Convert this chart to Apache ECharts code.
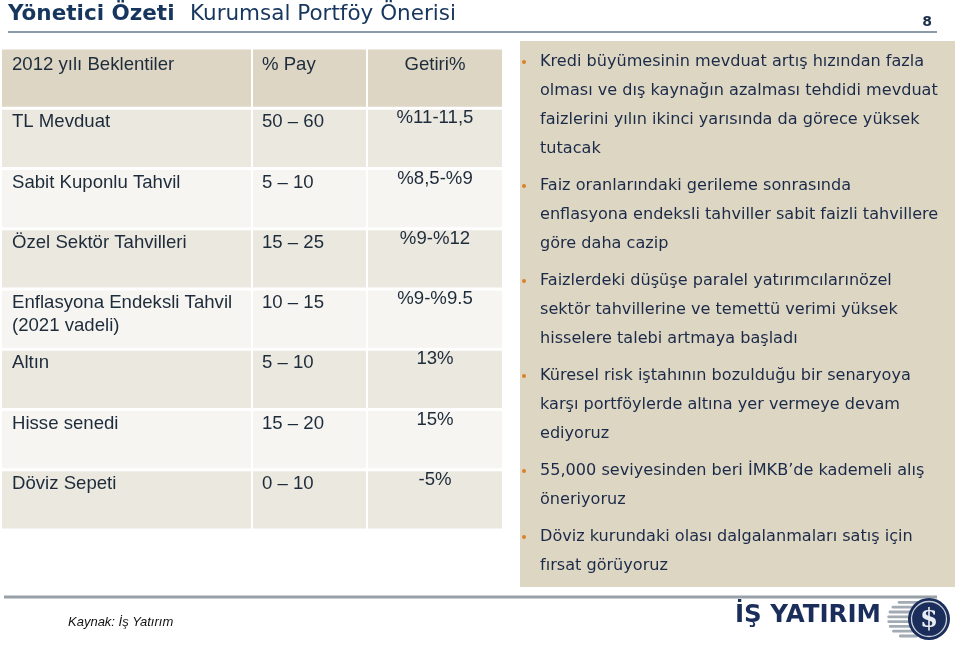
<!DOCTYPE html>
<html><head><meta charset="utf-8">
<script src="https://cdn.jsdelivr.net/npm/echarts@6/dist/echarts.min.js"></script>
<style>html,body{margin:0;padding:0;background:#fff}#c{width:959px;height:645px}</style>
</head><body><div id="c"></div>
<script>
// ---- data ----
var headers = ['2012 yılı Beklentiler', '% Pay', 'Getiri%'];
var categories = ['TL Mevduat', 'Sabit Kuponlu Tahvil', 'Özel Sektör Tahvilleri', 'Enflasyona Endeksli Tahvil\n(2021 vadeli)', 'Altın', 'Hisse senedi', 'Döviz Sepeti'];
var payRanges = ['50 – 60', '5 – 10', '15 – 25', '10 – 15', '5 – 10', '15 – 20', '0 – 10'];
var returns = ['%11-11,5', '%8,5-%9', '%9-%12', '%9-%9.5', '13%', '15%', '-5%'];
var bullets = [
  ['Kredi büyümesinin mevduat artış hızından fazla', 'olması ve dış kaynağın azalması tehdidi mevduat', 'faizlerini yılın ikinci yarısında da görece yüksek', 'tutacak'],
  ['Faiz oranlarındaki gerileme sonrasında', 'enflasyona endeksli tahviller sabit faizli tahvillere', 'göre daha cazip'],
  ['Faizlerdeki düşüşe paralel yatırımcılarınözel', 'sektör tahvillerine ve temettü verimi yüksek', 'hisselere talebi artmaya başladı'],
  ['Küresel risk iştahının bozulduğu bir senaryoya', 'karşı portföylerde altına yer vermeye devam', 'ediyoruz'],
  ['55,000 seviyesinden beri İMKB’de kademeli alış', 'öneriyoruz'],
  ['Döviz kurundaki olası dalgalanmaları satış için', 'fırsat görüyoruz']
];
var titleBold = 'Yönetici Özeti';
var titleRest = 'Kurumsal Portföy Önerisi';
var pageNo = '8';
var sourceText = 'Kaynak: İş Yatırım';
var logoText = 'İŞ YATIRIM';

// ---- layout ----
var colEdges = [[0, 249], [251, 364], [366, 500]];
var rowKeys = ['h'].concat(categories);
var TXT = '#1d2b3a';

var chart = echarts.init(document.getElementById('c'));

function renderRow(params, api) {
  var i = api.value(1);
  var c = api.coord([0, i]);
  var band = api.size([0, 1])[1];
  var top = c[1] - band / 2;
  var x0 = c[0];
  var isHeader = i === 0;
  var fill = isHeader ? '#ddd6c5' : (i % 2 === 1 ? '#ebe8e0' : '#f6f5f1');
  var children = [];
  colEdges.forEach(function (e) {
    children.push({type: 'rect', shape: {x: x0 + e[0], y: top + 1.5, width: e[1] - e[0], height: band - 3}, style: {fill: fill}});
  });
  var font = '18.6px "Liberation Sans", Arial, sans-serif';
  var ty = top + (isHeader ? 17 : 14);
  var t1 = isHeader ? headers[0] : categories[i - 1];
  var t2 = isHeader ? headers[1] : payRanges[i - 1];
  var t3 = isHeader ? headers[2] : returns[i - 1];
  t1.split('\n').forEach(function (ln, k) {
    children.push({type: 'text', style: {text: ln, x: x0 + 10, y: ty + k * 23, font: font, fill: TXT, textAlign: 'left', textVerticalAlign: 'middle'}});
  });
  children.push({type: 'text', style: {text: t2, x: x0 + colEdges[1][0] + 9, y: ty, font: font, fill: TXT, textAlign: 'left', textVerticalAlign: 'middle'}});
  children.push({type: 'text', style: {text: t3, x: x0 + (colEdges[2][0] + colEdges[2][1]) / 2, y: isHeader ? ty : ty - 4, font: font, fill: TXT, textAlign: 'center', textVerticalAlign: 'middle'}});
  return {type: 'group', children: children};
}

// right panel graphics
var graphics = [];
graphics.push({type: 'rect', shape: {x: 520, y: 41, width: 435, height: 546}, style: {fill: '#ddd6c3'}, z: 0});
var y = 62;
bullets.forEach(function (lines) {
  graphics.push({type: 'circle', shape: {cx: 524, cy: y, r: 2}, style: {fill: '#d9822b'}, z: 2});
  lines.forEach(function (ln, k) {
    graphics.push({type: 'text', style: {text: ln, x: 540, y: y, font: '16.1px "DejaVu Sans", Verdana, sans-serif', fill: '#1b2a48', textAlign: 'left', textVerticalAlign: 'middle'}, z: 2});
    y += 29;
  });
  y += 8;
});
// title
graphics.push({type: 'text', style: {text: titleBold, x: 8, y: 14, font: 'bold 21.5px "DejaVu Sans", Verdana, sans-serif', fill: '#17365d', textAlign: 'left', textVerticalAlign: 'middle'}});
graphics.push({type: 'text', style: {text: titleRest, x: 190, y: 14, font: '21.5px "DejaVu Sans", Verdana, sans-serif', fill: '#17365d', textAlign: 'left', textVerticalAlign: 'middle'}});
graphics.push({type: 'text', style: {text: pageNo, x: 927, y: 22, font: 'bold 14px "DejaVu Sans", Verdana, sans-serif', fill: '#1b2f4b', textAlign: 'center', textVerticalAlign: 'middle'}});
graphics.push({type: 'line', shape: {x1: 8, y1: 32, x2: 937, y2: 32}, style: {stroke: '#8d9ba8', lineWidth: 2}});
graphics.push({type: 'line', shape: {x1: 4, y1: 597, x2: 937, y2: 597}, style: {stroke: '#98a0a8', lineWidth: 3}});
graphics.push({type: 'text', style: {text: sourceText, x: 68, y: 622, font: 'italic 13px "Liberation Sans", Arial, sans-serif', fill: '#111', textAlign: 'left', textVerticalAlign: 'middle'}});
graphics.push({type: 'text', style: {text: logoText, x: 735, y: 616, font: 'bold 24.5px "DejaVu Sans", Verdana, sans-serif', fill: '#1b2d5a', textAlign: 'left', textVerticalAlign: 'middle'}});
for (var s = 0; s < 8; s++) {
  var sy = 601 + s * 4.8;
  var half = Math.sqrt(Math.max(0, 19 * 19 - Math.pow(sy + 1.5 - 619, 2)));
  graphics.push({type: 'rect', shape: {x: 908 - half * 1.1, y: sy, width: half * 1.1 + 10, height: 2.8, r: 1.4}, style: {fill: '#a2aab4'}});
}
graphics.push({type: 'circle', shape: {cx: 929, cy: 619, r: 21}, style: {fill: '#1b2d5a'}});
graphics.push({type: 'circle', shape: {cx: 929, cy: 619, r: 17.5}, style: {fill: 'none', stroke: '#c9d0da', lineWidth: 1.3}});
graphics.push({type: 'text', style: {text: '$', x: 929, y: 620, font: 'bold 26px "DejaVu Serif", serif', fill: '#e8ecf2', textAlign: 'center', textVerticalAlign: 'middle'}});

chart.setOption({
  animation: false,
  backgroundColor: '#ffffff',
  grid: {left: 2, top: 48, width: 500, height: 482},
  xAxis: {type: 'value', min: 0, max: 500, show: false},
  yAxis: {type: 'category', data: rowKeys, inverse: true, show: false},
  series: [{
    type: 'custom',
    renderItem: renderRow,
    encode: {x: 0, y: 1},
    data: rowKeys.map(function (k, i) { return [0, i]; })
  }],
  graphic: graphics
});
</script></body></html>
